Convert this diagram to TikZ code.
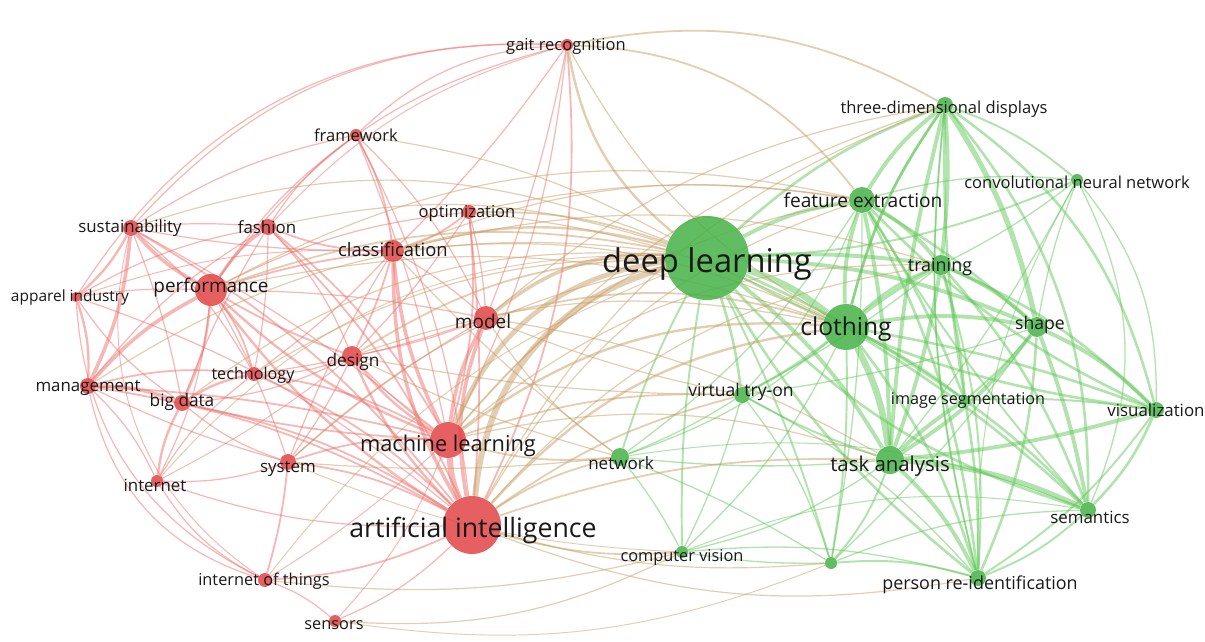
\documentclass[tikz,border=0pt]{standalone}
\usepackage{fontspec}
\setmainfont{Open Sans}
\usetikzlibrary{backgrounds}
\definecolor{redN}{RGB}{226,68,70}
\definecolor{greenN}{RGB}{70,178,70}
\definecolor{redE}{RGB}{238,112,108}
\definecolor{greenE}{RGB}{100,200,90}
\definecolor{tanE}{RGB}{200,158,100}
\definecolor{txt}{RGB}{25,25,25}

\begin{document}
\begin{tikzpicture}[x=0.2mm, y=-0.2mm,
  kw/.style={circle, inner sep=0pt, minimum size=#1*0.4mm, fill opacity=0.85},
  kwR/.style={kw=#1, fill=redN},
  kwG/.style={kw=#1, fill=greenN},
  lbl/.style={font=\fontsize{#1}{#1}\selectfont, text=txt, inner sep=0pt},
  eR/.style={draw=redE, line width=#1*0.24mm, draw opacity=0.5},
  eG/.style={draw=greenE, line width=#1*0.26mm, draw opacity=0.5},
  eX/.style={draw=tanE, line width=#1*0.24mm, draw opacity=0.5}]
\useasboundingbox (0,0) rectangle (1205,642);
% red cluster
\foreach \n/\x/\y/\r in {gr/567/45/6, fw/356/135/6, opt/469/212/7, sus/131/228/8,
  fas/268/227/8, cls/393/251/11, perf/211/290/16, app/76/297/5, mod/486/318/12,
  des/352/356/10, tech/254/374/7, mgmt/88/386/8, bd/182/403/8, ml/448/440/18,
  inet/157/481/6, sys/288/462/8, ai/472/525/29, iot/265/580/7, sen/335/621/6}
  \node[kwR=\r] (\n) at (\x,\y) {};
% green cluster
\foreach \n/\x/\y/\r in {dl/707/258/42, tdd/945/105/8, fe/862/200/13, cnn/1077/180/6,
  tr/941/265/10, clo/846/327/23, sh/1037/327/10, vto/742/395/8, iseg/965/400/5,
  vis/1156/410/8, net/620/457/9, ta/890/460/14, sem/1088/510/8, cv/682/552/6,
  un/831/563/6, pri/978/578/8}
  \node[kwG=\r] (\n) at (\x,\y) {};
\begin{scope}[on background layer]
\fill[white] (0,0) rectangle (1205,642);
% links inside the red cluster
\foreach \a/\b/\w/\c in {ai/ml/5/10, ai/mod/3/15, ml/mod/3/10, ai/cls/3/15, ml/cls/3/10,
  ai/des/2/10, ml/des/2/10, ai/perf/2/10, ml/perf/2/10, perf/sus/3/10, perf/mgmt/3/-10,
  sus/mgmt/3/10, sus/app/2/10, app/mgmt/2/10, perf/fas/2/10, sus/fas/1/5, mgmt/bd/3/10,
  bd/perf/2/-10, mgmt/tech/1.5/10, bd/tech/2/10, perf/tech/1.5/10, inet/bd/2/10,
  inet/mgmt/1/-10, inet/perf/1/-10, inet/tech/1/10, sys/ai/1.5/10, sys/ml/1.5/10,
  sys/bd/1/10, sys/iot/1.5/5, iot/ai/1.5/-10, iot/sen/1/10, sen/ai/1/-10, iot/inet/1/15,
  iot/mgmt/1/30, app/iot/1/-30, sus/iot/0.8/-35, fw/cls/1.5/10, fw/mod/1/10, fw/sus/1/-10,
  fw/fas/1/-10, fw/ai/1/10, fw/gr/1/20, gr/sus/1/-25, gr/perf/1/-20, gr/ai/1.5/15,
  gr/ml/1/10, gr/cls/1/5, opt/cls/1.5/10, opt/ml/1.5/10, opt/ai/1.5/5, opt/mod/1/5,
  fas/cls/1.5/-10, fas/ai/1.5/10, fas/ml/1.5/10, fas/des/1/10, fas/mgmt/1/-10,
  cls/des/1.5/5, cls/perf/1.5/-5, cls/mod/1/5, mod/des/1/5, mod/perf/1/-5, des/perf/1.5/5,
  des/tech/1/10, des/bd/1/10, tech/ai/1.5/10, tech/ml/1.5/10, bd/ai/1.5/10, bd/ml/1.5/-5,
  mgmt/ai/1.5/10, mgmt/ml/1.5/5, sus/ai/1.5/10, sus/ml/1/5, sus/cls/1/-5, app/perf/1/5,
  app/ai/1/10, app/bd/1/-10, inet/ai/1/-10, sen/ml/0.8/-10, iot/ml/0.8/-5, app/gr/1/30,
  sus/tech/1/10, sus/bd/1/5, perf/sys/1/5, mgmt/sys/1/-5, fas/tech/1/5, fas/bd/1/-5,
  cls/tech/1/5, cls/sys/1/-5, mod/tech/1/5, mod/sys/1/-5, des/sys/1/5, des/ml/1/-5,
  app/fas/1/10, app/cls/0.8/10, inet/sys/1/-10, inet/des/0.8/-5, fw/perf/1/-10,
  fw/ml/1/5, opt/perf/1/-10, opt/des/1/5, gr/fas/0.8/-15, gr/mod/1/5}
  \draw[eR=\w] (\a) to[bend left=\c] (\b);
% links inside the green cluster
\foreach \a/\b/\w/\c in {dl/clo/5/10, dl/fe/3/10, dl/tr/3/5, dl/ta/3/10, dl/sh/3/10,
  dl/tdd/2/10, dl/vto/2/5, dl/net/1.5/-5, dl/cv/1.5/-5, dl/un/1.5/5, dl/pri/2/-10,
  dl/sem/2/-15, dl/vis/2/-10, dl/iseg/2/5, dl/cnn/1.5/-10, clo/ta/5/10, clo/sh/3/10,
  clo/tr/3/5, clo/fe/3/10, clo/tdd/2/10, clo/iseg/2/5, clo/pri/2/10, clo/sem/2/5,
  clo/vis/2/5, clo/vto/2/5, clo/un/1.5/5, fe/tdd/3/10, fe/tr/3/10, fe/ta/3/5, fe/sh/2/5,
  fe/cnn/1/10, fe/pri/2/10, fe/vis/2/-10, fe/sem/1.5/-5, tdd/sh/4/10, tdd/tr/3/5,
  tdd/ta/3/-5, tdd/vis/2/20, tdd/cnn/1.5/10, tdd/sem/2/20, tdd/pri/1.5/-10, tr/sh/3/10,
  tr/ta/3/5, tr/vis/2/10, tr/sem/2/10, tr/pri/1.5/10, tr/iseg/2/5, sh/vis/3/10,
  sh/sem/3/5, sh/ta/3/10, sh/pri/2/10, sh/cnn/1/5, sh/iseg/1.5/5, ta/sem/4/10,
  ta/pri/3/10, ta/vis/3/-5, ta/iseg/3/5, ta/vto/1.5/5, ta/un/1.5/10, ta/net/1/5,
  ta/cv/1/10, vis/sem/2/10, vis/pri/1.5/10, vis/cnn/1/-20, sem/pri/1.5/10, sem/cnn/1/-25,
  iseg/sem/2/5, iseg/pri/2/5, iseg/vis/1.5/5, vto/net/1/5, vto/cv/1/5, vto/un/1/10,
  vto/pri/1/10, net/cv/1/5, net/un/1/5, un/pri/1.5/10, un/cv/1/5, cv/pri/1/10, cnn/tr/1/5,
  fe/iseg/2/5, tdd/iseg/2/-5, tdd/clo/2/-10, tr/clo/2/-10, fe/un/1/5, vto/fe/1/-10,
  vto/tr/1/-5, vto/sh/1/-5, net/clo/1/-10, net/fe/1/-10, net/sem/0.8/15, cv/sem/0.8/15,
  cv/clo/1/-10, un/sem/1/10, un/sh/1/-5, pri/tdd/1/10, cnn/ta/1/5, cnn/pri/0.8/-15}
  \draw[eG=\w] (\a) to[bend left=\c] (\b);
% links between the two clusters
\foreach \a/\b/\w/\c in {ai/dl/5/35, ml/dl/4/30, mod/dl/3/20, cls/dl/2/15, des/dl/1.5/15,
  perf/dl/1.5/15, opt/dl/1.5/10, fw/dl/1/10, gr/dl/2/-20, gr/tdd/1.5/20, gr/fe/1.5/25,
  ai/clo/2/20, ai/vto/1.5/10, ai/net/1.5/10, ai/cv/1.5/-10, ai/ta/1.5/10, ai/fe/1/20,
  ai/pri/1/-15, ai/un/1/-10, ml/clo/2/20, ml/net/1.5/-10, ml/vto/1.5/10, ml/ta/1/15,
  ml/fe/1/20, mod/clo/1.5/15, mod/net/1/-10, cls/clo/1/15, cls/fe/1/15, cls/net/1/-5,
  opt/clo/1/10, opt/fe/1/10, perf/clo/1/15, des/clo/1/15, des/net/1/-5, tech/dl/1/15,
  bd/dl/1/20, mgmt/dl/1/20, sus/dl/1/20, sys/dl/1/15, sys/net/1/-5, fas/dl/1/15,
  sen/cv/1/-15, iot/cv/1/-10, iot/dl/0.8/15, sen/un/0.8/-15, inet/dl/0.8/25,
  tdd/mod/1/-15, tdd/ai/1/-20, tdd/ml/1/-15, ai/tr/1/20, ml/tr/1/20, mod/vto/1/-5,
  mod/ta/1/10, cls/tr/1/15, perf/fe/1/20, des/vto/1/-5, gr/clo/1/-15, sys/cv/0.8/-10}
  \draw[eX=\w] (\a) to[bend left=\c] (\b);
\end{scope}
% keyword labels
\foreach \n/\x/\y/\s/\t in {gr/566/46/9.4/gait recognition, fw/356/135/9.4/framework,
  opt/467/213/9.4/optimization, sus/130/228/9.6/sustainability, fas/267/227/9.6/fashion,
  cls/393/250/10.5/classification, perf/211/288/10.8/performance,
  app/70/297/8.8/apparel industry, mod/483/321/10.8/model, des/353/362/9.8/design,
  tech/253/375/9.2/technology, mgmt/88/388/9.6/management, bd/182/402/9.8/big data,
  ml/448/446/12.4/machine learning, inet/155/485/9.6/internet, sys/288/469/9.6/system,
  ai/473/530/15.2/artificial intelligence, iot/264/581/9.3/internet of things,
  sen/334/625/9.3/sensors}
  \node[lbl=\s] (t-\n) at (\x,\y) {\t};
\foreach \n/\x/\y/\s/\t in {dl/707/264/18.6/deep learning,
  tdd/944/109/9.4/three-dimensional displays, fe/863/200/10.9/feature extraction,
  cnn/1077/182/9.4/convolutional neural network, tr/940/267/10.2/training,
  clo/846/329/14/clothing, sh/1040/325/10/shape, vto/741/392/10/virtual try-on,
  iseg/968/401/9.2/image segmentation, vis/1156/410/9.6/visualization,
  net/621/463/9.7/network, ta/890/466/11.6/task analysis, sem/1090/517/9.6/semantics,
  cv/682/557/9.3/computer vision, pri/980/585/10.2/person re-identification}
  \node[lbl=\s] (t-\n) at (\x,\y) {\t};
\end{tikzpicture}
\end{document}
